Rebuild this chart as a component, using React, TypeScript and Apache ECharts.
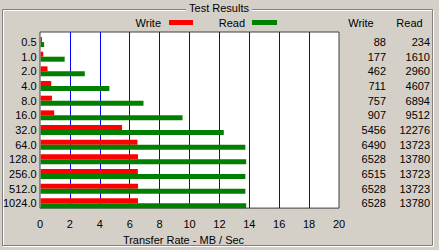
import React, { useEffect, useRef } from "react";
import * as echarts from "echarts";

const categories = ["0.5", "1.0", "2.0", "4.0", "8.0", "16.0", "32.0", "64.0", "128.0", "256.0", "512.0", "1024.0"];
const writeKB = [88, 177, 462, 711, 757, 907, 5456, 6490, 6528, 6515, 6528, 6528];
const readKB = [234, 1610, 2960, 4607, 6894, 9512, 12276, 13723, 13780, 13723, 13723, 13780];
const xMin = 0;
const xMax = 20;
const xInterval = 2;
const seriesNames = ["Write", "Read"];
const seriesColors = ["#ff0000", "#008000"];

const FONT = "'Liberation Sans', Arial, sans-serif";
const BG = "#d4d0c8";

export default function App() {
  const ref = useRef<HTMLDivElement>(null);
  useEffect(() => {
    document.body.style.margin = "0";
    document.body.style.background = BG;
    const chart = echarts.init(ref.current!, null, { renderer: "svg" });
    const txt = { color: "#000", fontSize: 11, fontFamily: FONT };
    const font = `11px ${FONT}`;
    const valueCol = (data: string[], offset: number) => ({
      gridIndex: 1,
      type: "category" as const,
      data,
      inverse: true,
      position: "right" as const,
      offset,
      axisLine: { show: false },
      axisTick: { show: false },
      splitLine: { show: false },
      axisLabel: { ...txt, margin: 0, align: "right" as const, interval: 0 },
    });
    chart.setOption({
      animation: false,
      backgroundColor: BG,
      textStyle: { fontFamily: FONT },
      grid: [
        { left: 40, top: 32, width: 299, height: 179, show: true, backgroundColor: "#ffffff", borderColor: "#404040", borderWidth: 1 },
        { left: 40, top: 34.7, width: 299, height: 176 },
      ],
      xAxis: [
        {
          gridIndex: 0,
          type: "value",
          min: xMin,
          max: xMax,
          interval: xInterval,
          axisLine: { show: false },
          axisTick: { show: false },
          splitLine: { show: true, showMinLine: false, showMaxLine: false, lineStyle: { color: "#0000ff", width: 1, type: "solid" } },
          axisLabel: { ...txt, margin: 10 },
          name: "Transfer Rate - MB / Sec",
          nameLocation: "middle",
          nameGap: 23,
          nameTextStyle: { ...txt, padding: [0, 12, 0, 0] },
        },
        {
          gridIndex: 1, type: "value", min: xMin, max: xMax, interval: xInterval,
          axisLine: { show: false }, axisTick: { show: false }, axisLabel: { show: false }, splitLine: { show: false },
        },
      ],
      yAxis: [
        { gridIndex: 0, type: "value", show: false, splitLine: { show: false } },
        {
          gridIndex: 1,
          type: "category",
          data: categories,
          inverse: true,
          axisLine: { show: false },
          axisTick: { show: false },
          splitLine: { show: false },
          axisLabel: { ...txt, margin: 4, interval: 0 },
        },
        valueCol(writeKB.map(String), 47),
        valueCol(readKB.map(String), 91),
      ],
      series: [
        {
          name: seriesNames[0],
          type: "bar",
          xAxisIndex: 1,
          yAxisIndex: 1,
          data: writeKB.map((v) => v / 1000),
          barWidth: 5,
          barGap: "0%",
          itemStyle: { color: seriesColors[0] },
        },
        {
          name: seriesNames[1],
          type: "bar",
          xAxisIndex: 1,
          yAxisIndex: 1,
          data: readKB.map((v) => v / 1000),
          barWidth: 5,
          barGap: "0%",
          itemStyle: { color: seriesColors[1] },
        },
      ],
      graphic: [
        { type: "rect", silent: true, z: -1, shape: { x: 3.5, y: 10.5, width: 430, height: 236 }, style: { fill: "none", stroke: "#ffffff", lineWidth: 1 } },
        { type: "rect", silent: true, z: -1, shape: { x: 2.5, y: 9.5, width: 430, height: 236 }, style: { fill: "none", stroke: "#808080", lineWidth: 1 } },
        { type: "rect", silent: true, z: 0, shape: { x: 186, y: 0, width: 66, height: 16 }, style: { fill: BG } },
        { type: "text", silent: true, x: 219, y: 8, style: { text: "Test Results", font, fill: "#000", align: "center", verticalAlign: "middle" } },
        { type: "text", silent: true, x: 161, y: 22.5, style: { text: seriesNames[0], font, fill: "#000", align: "right", verticalAlign: "middle" } },
        { type: "rect", silent: true, shape: { x: 169, y: 20, width: 24, height: 5 }, style: { fill: seriesColors[0] } },
        { type: "text", silent: true, x: 245, y: 22.5, style: { text: seriesNames[1], font, fill: "#000", align: "right", verticalAlign: "middle" } },
        { type: "rect", silent: true, shape: { x: 252, y: 20, width: 25, height: 5 }, style: { fill: seriesColors[1] } },
        { type: "text", silent: true, x: 361, y: 22.5, style: { text: seriesNames[0], font, fill: "#000", align: "center", verticalAlign: "middle" } },
        { type: "text", silent: true, x: 409.5, y: 22.5, style: { text: seriesNames[1], font, fill: "#000", align: "center", verticalAlign: "middle" } },
      ],
    });
    return () => chart.dispose();
  }, []);
  return <div ref={ref} style={{ width: 439, height: 250 }} />;
}
